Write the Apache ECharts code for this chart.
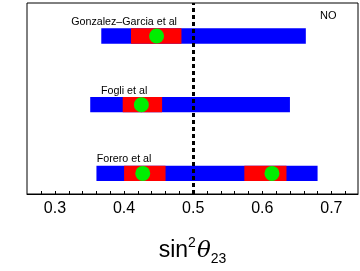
<!DOCTYPE html>
<html>
<head>
<meta charset="utf-8">
<script src="https://cdn.jsdelivr.net/npm/echarts@6/dist/echarts.min.js"></script>
<style>html,body{margin:0;padding:0;background:#fff}#c{width:360px;height:271px}</style>
</head>
<body>
<div id="c"></div>
<script>
// rows from bottom (0) to top (2)
const studies = ['Forero et al', 'Fogli et al', 'Gonzalez\u2013Garcia et al'];
const wideRange = [[0.360, 0.680], [0.351, 0.640], [0.367, 0.663]];
const narrowRanges = [[[0.400, 0.460], [0.574, 0.635]], [[0.398, 0.455]], [[0.410, 0.483]]];
const bestFits = [[0.427, 0.614], [0.425], [0.447]];
const tickLabels = [0.3, 0.4, 0.5, 0.6, 0.7];
const minorTicks = [0.28,0.3,0.32,0.34,0.36,0.38,0.4,0.42,0.44,0.46,0.48,0.5,0.52,0.54,0.56,0.58,0.6,0.62,0.64,0.66,0.68,0.7,0.72];
const refValue = 0.5;
const labelAt = 0.4;
const panelTag = 'NO';

const barData = [];
wideRange.forEach((r, i) => barData.push([r[0], r[1], i, 0]));
narrowRanges.forEach((rs, i) => rs.forEach(r => barData.push([r[0], r[1], i, 1])));
const dotData = [];
bestFits.forEach((bs, i) => bs.forEach(b => dotData.push([b, i])));
const labelData = studies.map((s, i) => [labelAt, i, s]);

const chart = echarts.init(document.getElementById('c'), null, {renderer: 'canvas'});
const FONT = 'Liberation Sans, Arial, sans-serif';
chart.setOption({
  animation: false,
  grid: {left: 27, right: 2, top: 3, bottom: 64, show: true, borderColor: '#000', borderWidth: 1, backgroundColor: 'transparent'},
  xAxis: {
    type: 'value', min: 0.2595, max: 0.7385,
    axisLine: {show: true, onZero: false, lineStyle: {color: '#000', width: 1}},
    axisTick: {show: true, inside: true, length: 3, lineStyle: {color: '#000'}, customValues: minorTicks},
    axisLabel: {color: '#000', fontSize: 16, fontFamily: FONT, margin: 7, customValues: tickLabels,
      formatter: v => String(Math.round(v * 10) / 10)},
    splitLine: {show: false},
    name: '{a|sin}{b|2}{c|\u03b8}{d|23}',
    nameLocation: 'middle', nameGap: 42,
    nameTextStyle: {
      rich: {
        a: {fontSize: 23, fontFamily: FONT, color: '#000', lineHeight: 30, verticalAlign: 'middle'},
        b: {fontSize: 14, fontFamily: FONT, color: '#000', lineHeight: 30, verticalAlign: 'top', padding: [0, 1, 0, 0]},
        c: {fontSize: 23, fontFamily: 'DejaVu Serif, serif', fontStyle: 'italic', color: '#000', lineHeight: 30, verticalAlign: 'middle'},
        d: {fontSize: 14, fontFamily: FONT, color: '#000', lineHeight: 30, verticalAlign: 'bottom'}
      }
    }
  },
  yAxis: {type: 'value', min: -0.3, max: 2.48, show: false},
  graphic: [{type: 'text', left: 320, top: 10, style: {text: panelTag, fontSize: 11, fontFamily: FONT, fill: '#000'}}],
  series: [
    {
      type: 'line', data: [], z: 1,
      markLine: {silent: true, symbol: 'none', label: {show: false},
        lineStyle: {color: '#000', width: 3, type: [4, 3]},
        data: [{xAxis: refValue}]}
    },
    {
      type: 'custom', z: 2, data: barData,
      renderItem: (params, api) => {
        const p0 = api.coord([api.value(0), api.value(2)]);
        const p1 = api.coord([api.value(1), api.value(2)]);
        const h = 15.3;
        return {type: 'rect', shape: {x: p0[0], y: p0[1] - h / 2, width: p1[0] - p0[0], height: h},
          style: {fill: api.value(3) === 0 ? '#0000ff' : '#ff0000'}};
      }
    },
    {
      type: 'scatter', z: 3, data: dotData, symbol: 'circle', symbolSize: 15,
      itemStyle: {color: '#00ee00', opacity: 1}
    },
    {
      type: 'custom', z: 4, data: labelData,
      renderItem: (params, api) => {
        const p = api.coord([api.value(0), api.value(1)]);
        return {type: 'text', x: p[0], y: p[1] - 14,
          style: {text: labelData[params.dataIndex][2], fontSize: 10.7, fontFamily: FONT, fill: '#000', align: 'center', verticalAlign: 'middle'}};
      }
    }
  ]
});
</script>
</body>
</html>
